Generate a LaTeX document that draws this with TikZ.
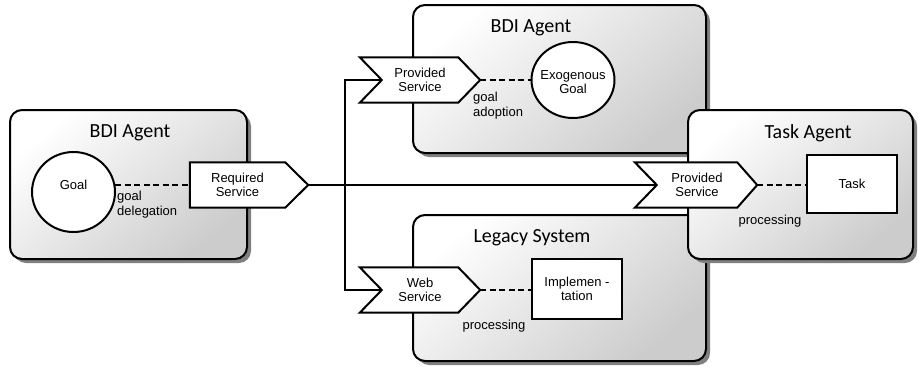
\documentclass[tikz,border=0pt]{standalone}
\usepackage{fontspec}
\setmainfont{Liberation Sans}
\newfontfamily\titlefont{Carlito}
\usetikzlibrary{calc,shapes.geometric,shadows}

% outline of a service port: #1 node, #2 depth of the notch on the left, #3 depth of the point on the right
\newcommand{\svcoutline}[3]{%
  \draw[svcline] ($(#1.north west)-(#2,0)$) -- (#1.north east) -- ($(#1.east)+(#3,0)$)
    -- (#1.south east) -- ($(#1.south west)-(#2,0)$) -- (#1.west) -- cycle;
  \coordinate (#1-tip) at ($(#1.east)+(#3,0)$);
  \coordinate (#1-in) at (#1.west);}

\begin{document}
\begin{tikzpicture}[x=1pt,y=-1pt,
  container/.style={rectangle, rounded corners=12pt, draw=black, line width=2pt,
    top color=white, bottom color=black!20, shading angle=40,
    drop shadow={shadow xshift=4pt, shadow yshift=-4pt, opacity=1, fill=black!50}},
  boxtitle/.style={font=\titlefont\fontsize{20}{22}\selectfont},
  svc/.style={rectangle, inner sep=0pt, minimum height=45pt, align=center,
    font=\fontsize{13}{14.5}\selectfont},
  svcline/.style={draw=black, fill=white, line width=2pt, line join=miter},
  goalnode/.style={ellipse, draw=black, fill=white, line width=2pt, inner sep=0pt},
  worknode/.style={rectangle, draw=black, fill=white, line width=2pt, inner sep=0pt,
    align=center, font=\fontsize{13}{14.5}\selectfont},
  inlabel/.style={align=center, inner sep=0pt, font=\fontsize{13}{14.5}\selectfont},
  conn/.style={draw=black, line width=2.2pt},
  link/.style={draw=black, line width=2.2pt, dash pattern=on 6pt off 3.5pt},
  note/.style={font=\fontsize{13}{14.5}\selectfont, align=left, inner sep=0pt}]

\useasboundingbox (0,0) rectangle (919,367);

% containers
\node[container, minimum width=237pt, minimum height=149pt] (bdiL) at (128.5,184.5) {};
\node[container, minimum width=293pt, minimum height=148pt] (bdiT) at (559.5,79) {};
\node[container, minimum width=293pt, minimum height=146pt] (legacy) at (559.5,288) {};
\node[container, minimum width=225pt, minimum height=149pt] (taskag) at (800.5,184.5) {};

\node[boxtitle] (tL) at (130,133) {BDI Agent};
\node[boxtitle] (tT) at (531,28) {BDI Agent};
\node[boxtitle] (tG) at (532,238) {Legacy System};
\node[boxtitle] (tA) at (808,133) {Task Agent};

% inner elements
\node[goalnode, minimum width=83pt, minimum height=80pt] (goal) at (73.5,192) {};
\node[inlabel] (goaltxt) at (73.5,185) {Goal};
\node[goalnode, minimum width=83pt, minimum height=76pt] (exo) at (573,80) {};
\node[inlabel] (exotxt) at (573,82) {Exogenous\\Goal};
\node[worknode, minimum width=90pt, minimum height=60pt] (impl) at (577,289) {Implemen -\\tation};
\node[worknode, minimum width=90pt, minimum height=58pt] (task) at (852,184) {Task};

% service ports
\node[svc, minimum width=95pt] (rs) at (237.5,185) {};
\svcoutline{rs}{0}{23}
\node[svc, minimum width=95pt] at (rs) {Required\\Service};

\node[svc, minimum width=76pt] (ps1) at (420,80) {};
\svcoutline{ps1}{22}{22}
\node[svc, minimum width=76pt] at (ps1) {Provided\\Service};

\node[svc, minimum width=76pt] (ws) at (420,290) {};
\svcoutline{ws}{22}{22}
\node[svc, minimum width=76pt] at (ws) {Web\\Service};

\node[svc, minimum width=80pt] (ps2) at (697,185) {};
\svcoutline{ps2}{22}{20}
\node[svc, minimum width=80pt] at (ps2) {Provided\\Service};

% dashed links inside the containers
\draw[link] (goal.10) -- (goal.10 -| rs.west);
\draw[link] (ps1-tip) -- (exo.west);
\draw[link] (ws-tip) -- (ws-tip -| impl.west);
\draw[link] (ps2-tip) -- (ps2-tip -| task.west);

% wiring between the services
\coordinate (fork) at (345,185);
\draw[conn] (rs-tip) -- (ps2-in);
\draw[conn, line join=miter] (ps1-in) -| (fork) |- (ws-in);

% link labels
\node[note, anchor=north west] (lg) at (117,191) {goal\\delegation};
\node[note, anchor=north west] (la) at (473,92) {goal\\adoption};
\node[note] (lp1) at (494,326) {processing};
\node[note] (lp2) at (770,221) {processing};
\end{tikzpicture}
\end{document}
